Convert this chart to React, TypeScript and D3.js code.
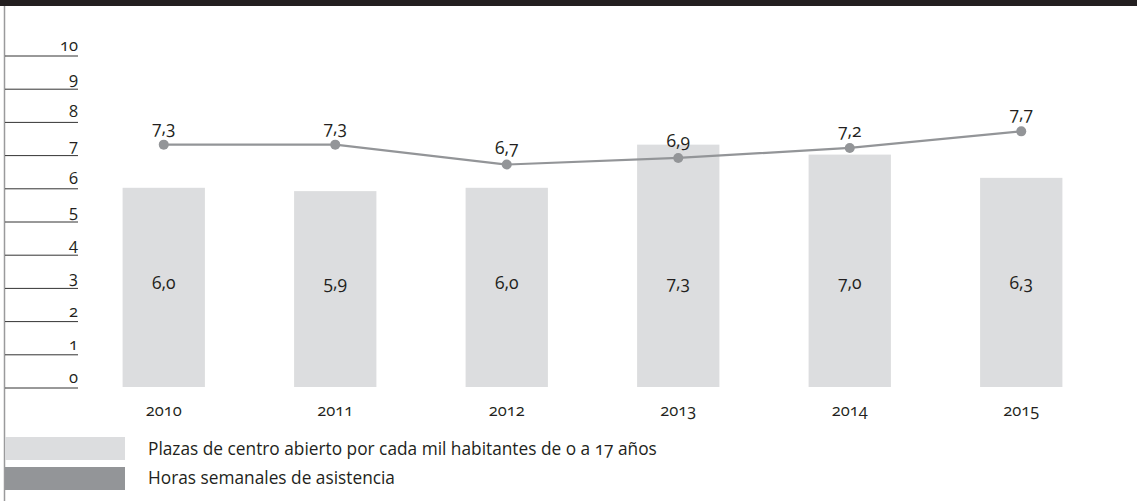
import React from "react";
import * as d3 from "d3";

const years = ["2010", "2011", "2012", "2013", "2014", "2015"];
const plazas = [6.0, 5.9, 6.0, 7.3, 7.0, 6.3];
const horas = [7.3, 7.3, 6.7, 6.9, 7.2, 7.7];
const yTicks = [0, 1, 2, 3, 4, 5, 6, 7, 8, 9, 10];
const legendLabels = [
  "Plazas de centro abierto por cada mil habitantes de o a 17 años",
  "Horas semanales de asistencia",
];

const W = 1137;
const H = 501;
const FONT = "'Open Sans', 'DejaVu Sans', sans-serif";
const fmt = (v: number) => v.toFixed(1).replace(".", ",");

export default function App() {
  const x = d3.scaleBand<string>().domain(years).range([78, 1107]).paddingInner(0.52).paddingOuter(0.26);
  const y = d3.scaleLinear().domain([0, 10]).range([387, 55]);
  const cx = (d: string) => (x(d) as number) + x.bandwidth() / 2;
  const line = d3
    .line<number>()
    .x((_, i) => cx(years[i]))
    .y((v) => y(v));
  const numStyle: React.CSSProperties = { fontVariantNumeric: "oldstyle-nums" };

  return (
    <svg
      width={W}
      height={H}
      style={{ position: "absolute", left: 0, top: 0, background: "#fff" }}
      fontFamily={FONT}
    >
      <rect x={0} y={0} width={W} height={6} fill="#231f20" />
      <line x1={4.5} x2={4.5} y1={6} y2={H} stroke="#9a9a9c" strokeWidth={1.5} />
      {yTicks.map((t) => (
        <g key={t}>
          <line x1={5} x2={78} y1={y(t) + 1} y2={y(t) + 1} stroke="#333" strokeWidth={1} />
          <text x={78} y={y(t) - 4} textAnchor="end" fontSize={16.5} fill="#231f20" style={numStyle}>
            {t}
          </text>
        </g>
      ))}
      {years.map((yr, i) => (
        <g key={yr}>
          <rect
            x={x(yr)}
            y={y(plazas[i])}
            width={x.bandwidth()}
            height={y(0) - y(plazas[i])}
            fill="#dcdddf"
          />
          <text x={cx(yr)} y={y(3.1) + 5} textAnchor="middle" fontSize={17.5} fill="#231f20" style={numStyle}>
            {fmt(plazas[i])}
          </text>
          <text x={cx(yr)} y={y(0) + 29} textAnchor="middle" fontSize={16.5} fill="#231f20" style={numStyle}>
            {yr}
          </text>
        </g>
      ))}
      <path d={line(horas) as string} fill="none" stroke="#939598" strokeWidth={2.2} />
      {years.map((yr, i) => (
        <g key={"p" + yr}>
          <circle cx={cx(yr)} cy={y(horas[i])} r={5} fill="#939598" />
          <text x={cx(yr)} y={y(horas[i]) - 11} textAnchor="middle" fontSize={17.5} fill="#231f20" style={numStyle}>
            {fmt(horas[i])}
          </text>
        </g>
      ))}
      <rect x={5} y={437} width={120} height={23} fill="#dcdddf" />
      <rect x={5} y={467} width={120} height={23} fill="#939598" />
      {legendLabels.map((l, i) => (
        <text key={l} x={148} y={455 + i * 29} fontSize={17.3} fill="#231f20" style={numStyle}>
          {l}
        </text>
      ))}
    </svg>
  );
}
